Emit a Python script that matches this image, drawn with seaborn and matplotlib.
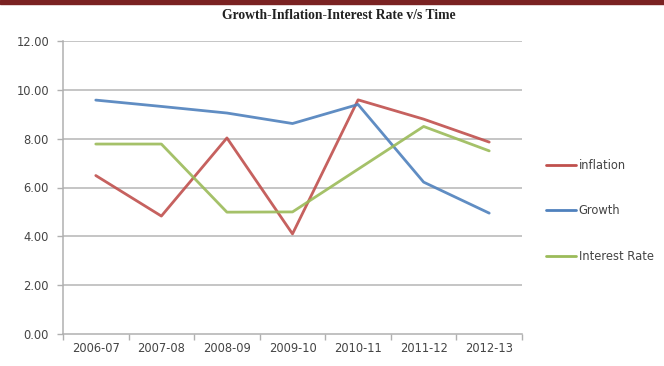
import matplotlib
matplotlib.use("Agg")
import matplotlib.pyplot as plt
import seaborn as sns
import pandas as pd
from matplotlib.lines import Line2D

years = ["2006-07", "2007-08", "2008-09", "2009-10", "2010-11", "2011-12", "2012-13"]
inflation = [6.49, 4.83, 8.03, 4.10, 9.59, 8.80, 7.86]
growth = [9.58, 9.32, 9.05, 8.62, 9.40, 6.22, 4.95]
interest_rate = [7.78, 7.78, 4.99, 5.00, 6.75, 8.50, 7.50]
series_names = ["Inflation", "Growth", "Interest Rate"]
legend_labels = ["inflation", "Growth", "Interest Rate"]
colors = ["#C0504D", "#4F81BD", "#9BBB59"]
y_ticks = [0, 2, 4, 6, 8, 10, 12]

df = pd.DataFrame({
    "Year": years * 3,
    "Value": inflation + growth + interest_rate,
    "Series": [series_names[0]] * 7 + [series_names[1]] * 7 + [series_names[2]] * 7,
})

sns.set_theme(style="white")
plt.rcParams["font.family"] = ["DejaVu Sans"]

fig = plt.figure(figsize=(6.64, 3.66), dpi=100)
fig.patch.set_facecolor("white")
ax = fig.add_axes([63/664, 1 - 334/366, (522 - 63)/664, (334 - 41)/366])

sns.lineplot(data=df, x="Year", y="Value", hue="Series", hue_order=series_names,
             palette=colors, linewidth=2.0, ax=ax, legend=False, alpha=0.9)

ax.set_xlim(-0.5, 6.5)
ax.set_ylim(0, 12)
ax.set_yticks(y_ticks)
ax.set_yticklabels([f"{v:.2f}" for v in y_ticks])
ax.set_xticks(range(len(years)))
ax.set_xticklabels(years)
ax.set_xlabel("")
ax.set_ylabel("")
for y in y_ticks[1:]:
    ax.axhline(y, color="#b5b5b5", linewidth=1.1, zorder=0)
ax.set_xticks([i - 0.5 for i in range(8)], minor=True)
ax.tick_params(axis="x", which="major", length=0, labelsize=8.3, colors="#444444", pad=6)
ax.tick_params(axis="x", which="minor", length=4, color="#b0b0b0", width=1, direction="out", bottom=True)
ax.tick_params(axis="y", which="major", length=4, color="#b0b0b0", width=1, left=True,
               labelsize=8.3, colors="#444444", pad=6)
for side in ["top", "right"]:
    ax.spines[side].set_visible(False)
for side in ["left", "bottom"]:
    ax.spines[side].set_color("#b0b0b0")
    ax.spines[side].set_linewidth(1.1)

fig.text(0.51, 0.958, "Growth-Inflation-Interest Rate v/s Time",
         ha="center", va="center", fontsize=9.8, fontweight="bold",
         family=["Liberation Serif"], color="#222222")

# top banner strip
fig.patches.append(plt.Rectangle((0, 1 - 4/366), 1, 4/366, transform=fig.transFigure,
                                 color="#7a2222", zorder=5))

handles = [Line2D([0], [0], color=c, linewidth=2) for c in colors]
fig.legend(handles, legend_labels,
           loc="center left", bbox_to_anchor=(536/664, 1 - 211/366),
           frameon=False, fontsize=8.3, labelspacing=2.8, handlelength=2.6,
           handletextpad=0.2, labelcolor="#444444")

fig.savefig("out.png", dpi=100)
